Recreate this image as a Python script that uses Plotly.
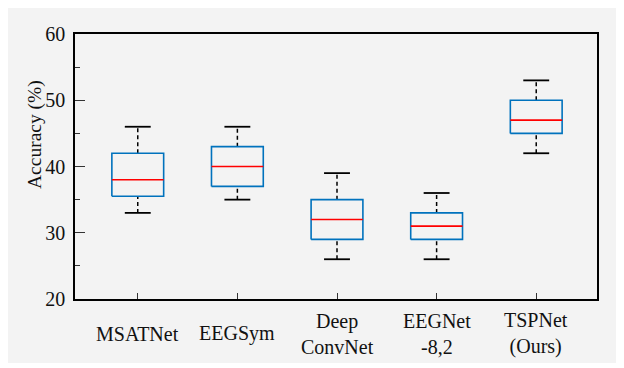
import plotly.graph_objects as go

categories = ["MSATNet", "EEGSym", "Deep<br>ConvNet", "EEGNet<br>-8,2", "TSPNet<br>(Ours)"]
lower_whisker = [33, 35, 26, 26, 42]
q1 = [35.5, 37, 29, 29, 45]
median = [38, 40, 32, 31, 47]
q3 = [42, 43, 35, 33, 50]
upper_whisker = [46, 46, 39, 36, 53]
y_ticks = [20, 30, 40, 50, 60]

BLUE = "#0072BD"
RED = "#FF0000"
BOX_HALF = 0.26
CAP_HALF = 0.13
FONT = "Times New Roman, Liberation Serif, DejaVu Serif, serif"

fig = go.Figure()
xs = list(range(len(categories)))

# whiskers (dashed)
wx, wy = [], []
for i in xs:
    wx += [i, i, None, i, i, None]
    wy += [q3[i], upper_whisker[i], None, lower_whisker[i], q1[i], None]
fig.add_trace(go.Scatter(x=wx, y=wy, mode="lines",
                         line=dict(color="black", width=1.5, dash="4px,3px"),
                         hoverinfo="skip", showlegend=False))
# caps
cx, cy = [], []
for i in xs:
    cx += [i - CAP_HALF, i + CAP_HALF, None, i - CAP_HALF, i + CAP_HALF, None]
    cy += [upper_whisker[i], upper_whisker[i], None, lower_whisker[i], lower_whisker[i], None]
fig.add_trace(go.Scatter(x=cx, y=cy, mode="lines",
                         line=dict(color="black", width=1.8),
                         hoverinfo="skip", showlegend=False))
# boxes
bx, by = [], []
for i in xs:
    bx += [i - BOX_HALF, i + BOX_HALF, i + BOX_HALF, i - BOX_HALF, i - BOX_HALF, None]
    by += [q1[i], q1[i], q3[i], q3[i], q1[i], None]
fig.add_trace(go.Scatter(x=bx, y=by, mode="lines",
                         line=dict(color=BLUE, width=1.6),
                         hoverinfo="skip", showlegend=False))
# medians
mx, my = [], []
for i in xs:
    mx += [i - BOX_HALF, i + BOX_HALF, None]
    my += [median[i], median[i], None]
fig.add_trace(go.Scatter(x=mx, y=my, mode="lines",
                         line=dict(color=RED, width=1.6),
                         hoverinfo="skip", showlegend=False))

# x labels as annotations, vertically centred like the original
for i, c in enumerate(categories):
    fig.add_annotation(x=i, y=-0.132, xref="x", yref="paper", text=c,
                       showarrow=False, yanchor="middle", xanchor="center",
                       font=dict(family=FONT, size=20, color="#111"))

fig.add_annotation(x=-0.078, y=0.62, xref="paper", yref="paper",
                   text="Accuracy (%)", textangle=-90, showarrow=False,
                   xanchor="center", yanchor="middle",
                   font=dict(family=FONT, size=19.5, color="#111"))

# plot area in figure px: left 67, right 589, top 26, bottom 291 (page has 8px body margin)
PL, PR, PT, PB = 67, 589, 26, 291
PW, PH = PR - PL, PB - PT
fig.add_shape(type="rect", xref="paper", yref="paper", layer="below",
              x0=(0 - PL) / PW, x1=(610 - PL) / PW,
              y0=(PB - 355) / PH, y1=(PB - 0) / PH,
              line=dict(width=0), fillcolor="#f3f3f3")

fig.update_layout(
    width=624, height=368,
    margin=dict(l=PL, r=624 - PR, t=PT, b=368 - PB),
    paper_bgcolor="white", plot_bgcolor="#f3f3f3",
    showlegend=False,
    font=dict(family=FONT, size=19, color="#111"),
)
fig.update_xaxes(range=[-0.63, 4.61], tickvals=xs, ticktext=[""] * len(xs),
                 ticks="inside", ticklen=6, tickwidth=1, tickcolor="#333",
                 showline=True, linecolor="black", linewidth=1.6, mirror=True,
                 showgrid=False, zeroline=False, fixedrange=True)
fig.update_yaxes(range=[20, 60], tickvals=y_ticks,
                 ticks="inside", ticklen=10, tickwidth=1, tickcolor="#333",
                 minor=dict(dtick=5, ticks="inside", ticklen=5, tickwidth=1, tickcolor="#333", showgrid=False),
                 showline=True, linecolor="black", linewidth=1.6, mirror=True,
                 showgrid=False, zeroline=False, tickfont=dict(family=FONT, size=20, color="#111"),
                 ticklabelstandoff=4, fixedrange=True)

fig.write_html("out.html")
